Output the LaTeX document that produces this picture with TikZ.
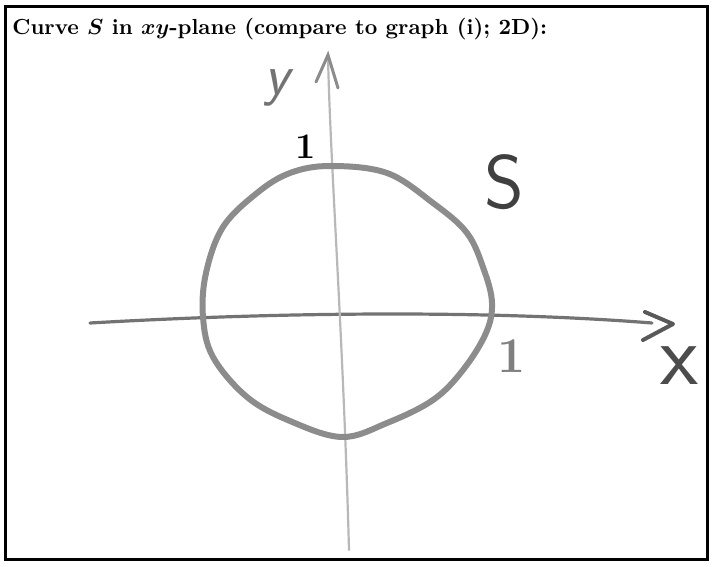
\documentclass[tikz,border=0pt]{standalone}
\begin{document}
\begin{tikzpicture}[x=0.5pt,y=-0.5pt,
  frame/.style={line width=1.5pt},
  axisline/.style={line width=1.6pt, color=black!55, line cap=round, line join=round},
  yaxisline/.style={line width=1.1pt, color=black!28, line cap=round},
  curveline/.style={line width=3pt, color=black!45, line join=round},
  hand/.style={font=\sffamily, inner sep=0pt}]

\useasboundingbox (0,0) rectangle (713,567);
\draw[frame] (5,7) rectangle (707,559);

\node[anchor=base west, inner sep=0pt, font=\bfseries\boldmath\fontsize{10.9}{13}\selectfont] (title) at (12,35)
  {Curve $S$ in $xy$-plane (compare to graph (i); 2D):};

% axes
\coordinate (xl) at (90,323);
\coordinate (xr) at (652,323);
\coordinate (ahtop) at (645,312);
\coordinate (ahtip) at (673,324);
\coordinate (ahbot) at (643,340);

\coordinate (yb) at (349,550);
\coordinate (yt) at (328,55);
\coordinate (yal) at (316,82);
\coordinate (yar) at (338,88);

\draw[axisline] (xl) .. controls (300,311) and (500,311) .. (xr);
\draw[axisline, line width=2pt, color=black!65] (ahtop) -- (ahtip) -- (ahbot);

\draw[yaxisline] (yb) .. controls (343,330) and (330,160) .. (yt);
\draw[yaxisline, line width=1.5pt, color=black!45] (yal) -- (yt) -- (yar);

% the curve S
\draw[curveline] plot[smooth cycle, tension=0.6] coordinates {
  (330,166) (387,173) (433,203) (467,233) (484,270) (492,303)
  (486,333) (463,370) (433,400) (387,423) (342,437) (290,421)
  (247,397) (213,357) (203,317) (206,273) (223,227) (257,193) (290,173)};

% labels
\node[hand, font=\sffamily\slshape\fontsize{29}{29}\selectfont, color=black!55] (ylab) at (277,88) {y};
\node[hand, font=\sffamily\fontsize{44}{44}\selectfont, color=black!70] (xlab) at (680,366) {x};
\node[inner sep=0pt, font=\bfseries\fontsize{18}{18}\selectfont] (oney) at (306,147) {1};
\node[inner sep=0pt, font=\bfseries\fontsize{25}{25}\selectfont, color=black!50] (onex) at (512,356) {1};
\node[hand, font=\sffamily\fontsize{38}{38}\selectfont, color=black!75] (slab) at (504,182) {S};

\end{tikzpicture}
\end{document}
